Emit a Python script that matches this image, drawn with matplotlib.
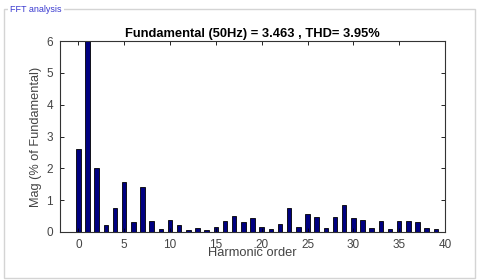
import matplotlib
matplotlib.use("Agg")
import matplotlib.pyplot as plt
from matplotlib.patches import Rectangle

plt.rcParams['font.family'] = ['Liberation Sans', 'DejaVu Sans']

# harmonic order 0..39, magnitude in % of fundamental (fundamental clipped by ylim)
orders = list(range(40))
mag = [2.62, 100.0, 2.00, 0.23, 0.76, 1.58, 0.32, 1.42, 0.34, 0.09,
       0.39, 0.22, 0.06, 0.14, 0.07, 0.16, 0.34, 0.50, 0.32, 0.43,
       0.17, 0.08, 0.24, 0.75, 0.17, 0.58, 0.46, 0.14, 0.46, 0.84,
       0.45, 0.39, 0.12, 0.33, 0.08, 0.34, 0.36, 0.31, 0.12, 0.10]
xticks = [0, 5, 10, 15, 20, 25, 30, 35, 40]
yticks = [0, 1, 2, 3, 4, 5, 6]

fig = plt.figure(figsize=(4.8, 2.8), dpi=100)

# panel frame like the GUI group box
fig.patches.append(Rectangle((4/480, 2/280), 471/480, 269/280, transform=fig.transFigure,
                             fill=False, edgecolor='#d4d4d4', linewidth=1))
fig.text(10/480, 1 - 10/280, "FFT analysis", color='#3a3ad0', fontsize=6.5,
         va='center', ha='left', bbox=dict(facecolor='white', edgecolor='none', pad=1.5))

ax = fig.add_axes([60/480, 48/280, 385/480, 191/280])
ax.bar(orders, mag, width=0.5, color='#000080', edgecolor='black', linewidth=0.6)
ax.set_xlim(-2, 40)
ax.set_ylim(0, 6)
ax.set_xticks(xticks)
ax.set_yticks(yticks)
ax.tick_params(direction='in', top=True, right=True, length=3, width=0.6,
               labelsize=8.5, labelcolor='#444444', pad=5)
for s in ax.spines.values():
    s.set_linewidth(0.8)
    s.set_color('#333333')

ax.set_title("Fundamental (50Hz) = 3.463 , THD= 3.95%", fontsize=9.3,
             fontweight='bold', pad=3)
ax.set_xlabel("Harmonic order", fontsize=9.3, color='#444444', labelpad=-3)
ax.set_ylabel("Mag (% of Fundamental)", fontsize=9.2, color='#444444', labelpad=3)

fig.savefig("out.png", dpi=100)
